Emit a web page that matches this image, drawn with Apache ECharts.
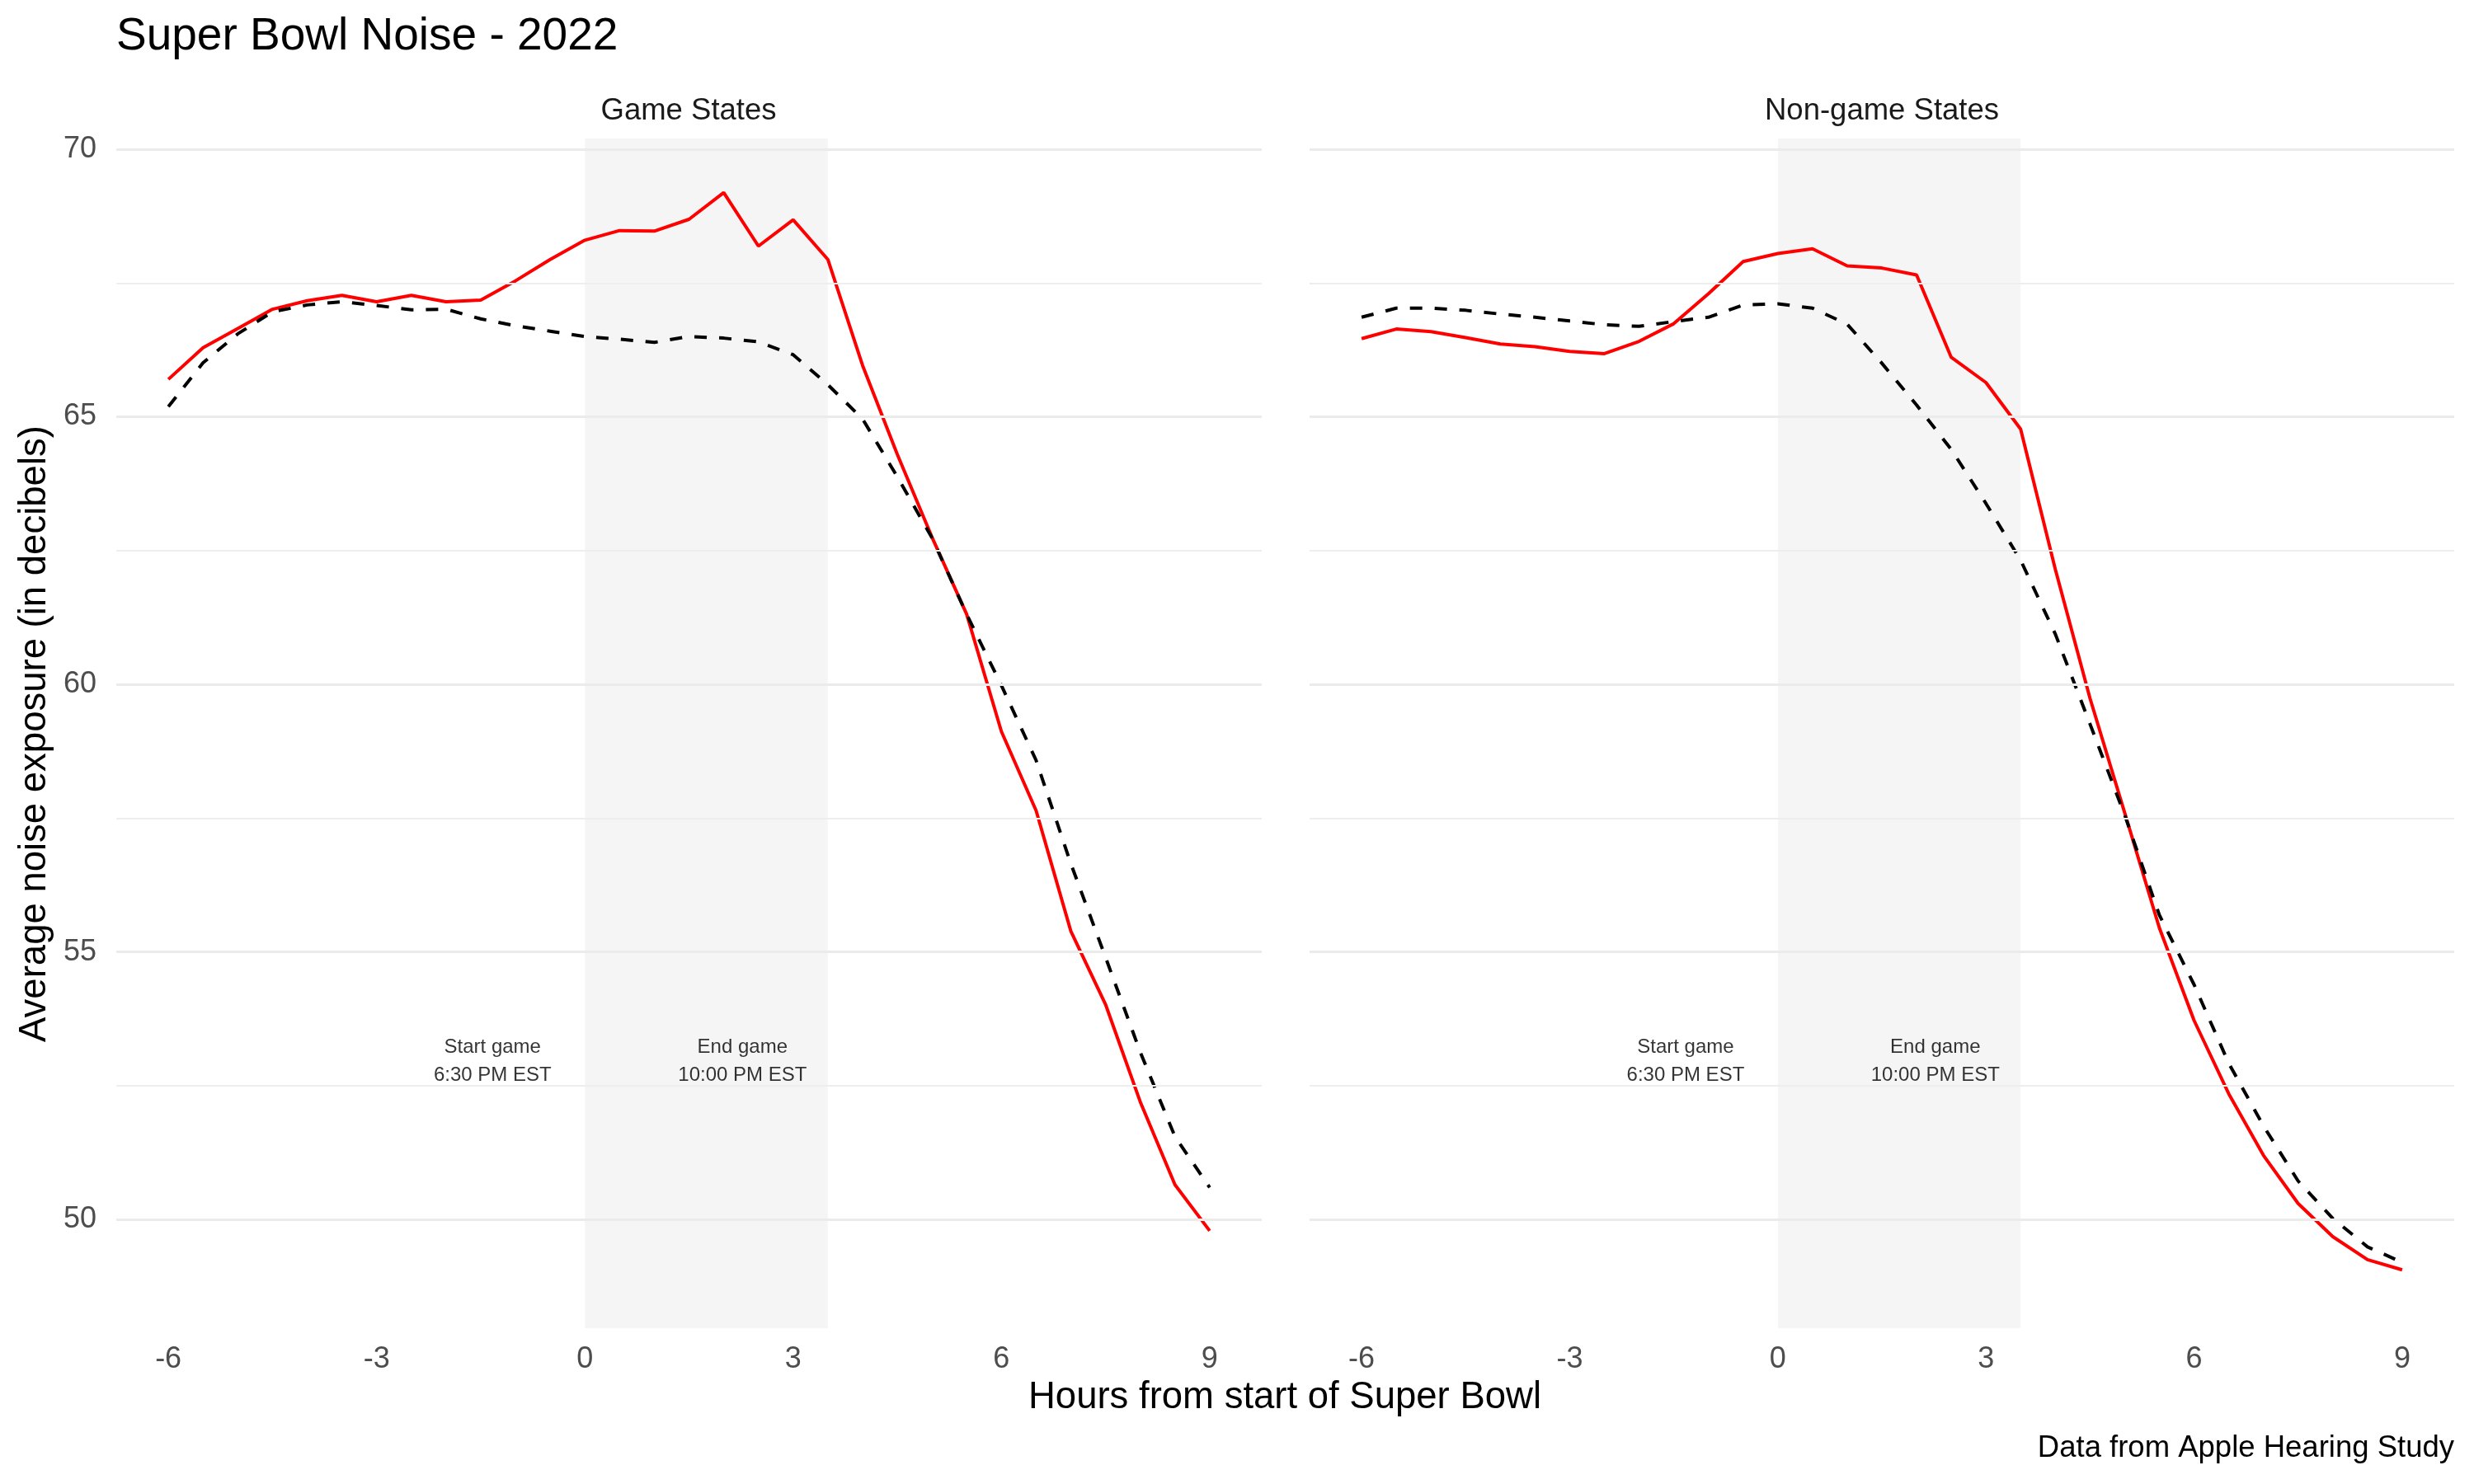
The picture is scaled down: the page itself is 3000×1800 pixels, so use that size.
<!DOCTYPE html>
<html><head><meta charset="utf-8">
<script src="https://cdn.jsdelivr.net/npm/echarts@6/dist/echarts.min.js"></script>
<style>html,body{margin:0;padding:0;background:#fff}#c{width:3000px;height:1800px}</style>
</head><body><div id="c"></div>
<script>
// ---- data ----
const hours = [-6,-5.5,-5,-4.5,-4,-3.5,-3,-2.5,-2,-1.5,-1,-0.5,0,0.5,1,1.5,2,2.5,3,3.5,4,4.5,5,5.5,6,6.5,7,7.5,8,8.5,9];
const gameRed = [65.70,66.29,66.65,67.01,67.17,67.27,67.15,67.27,67.15,67.18,67.54,67.94,68.30,68.48,68.47,68.69,69.19,68.19,68.68,67.94,65.96,64.30,62.75,61.31,59.12,57.64,55.39,54.02,52.20,50.65,49.79];
const gameBlack = [65.19,66.01,66.55,66.96,67.09,67.15,67.08,67.00,67.01,66.83,66.70,66.60,66.50,66.45,66.39,66.50,66.47,66.40,66.16,65.60,64.96,63.88,62.74,61.31,59.98,58.58,56.65,54.90,53.13,51.55,50.60];
const nonGameRed = [66.46,66.64,66.59,66.48,66.36,66.31,66.22,66.18,66.41,66.74,67.30,67.90,68.05,68.14,67.82,67.78,67.65,66.11,65.64,64.77,62.15,59.74,57.60,55.45,53.72,52.35,51.20,50.30,49.68,49.25,49.06];
const nonGameBlack = [66.86,67.03,67.03,66.99,66.92,66.86,66.79,66.72,66.69,66.78,66.86,67.09,67.11,67.03,66.73,66.00,65.22,64.39,63.38,62.32,60.94,59.26,57.56,55.69,54.39,52.92,51.75,50.72,50.02,49.49,49.20];
const panelTitles = ['Game States', 'Non-game States'];
const xTicks = [-6, -3, 0, 3, 6, 9];
const yTicks = [50, 55, 60, 65, 70];
const yMinor = [52.5, 57.5, 62.5, 67.5];
const gameWindow = [0, 3.5];
const annotX = [-1.33, 2.27];
const annotY = [52.95, 52.95];
const annotText = ['Start game\n6:30 PM EST', 'End game\n10:00 PM EST'];

// ---- chart ----
const FONT = 'Liberation Sans';
const chart = echarts.init(document.getElementById('c'), null, {renderer: 'canvas'});
const panels = [[gameRed, gameBlack], [nonGameRed, nonGameBlack]];
const grids = [
  {left: 141, width: 1389, top: 168, height: 1443},
  {left: 1588, width: 1388, top: 168, height: 1443}
];
const xAxes = [], yAxes = [], series = [];
panels.forEach((p, i) => {
  xAxes.push({
    gridIndex: i, type: 'value', min: -6.75, max: 9.75,
    axisLine: {show: false}, axisTick: {show: false}, splitLine: {show: false},
    axisLabel: {customValues: xTicks, color: '#4D4D4D', fontSize: 36, margin: 20, fontFamily: FONT}
  });
  yAxes.push({
    gridIndex: i, type: 'value', min: 47.97, max: 70.2,
    axisLine: {show: false}, axisTick: {show: false}, splitLine: {show: false},
    axisLabel: {show: i === 0, customValues: yTicks, color: '#4D4D4D', fontSize: 36, margin: 24, fontFamily: FONT}
  });
  // gridlines
  series.push({
    type: 'line', xAxisIndex: i, yAxisIndex: i, data: [], z: 1, silent: true,
    markLine: {
      silent: true, symbol: ['none', 'none'], animation: false,
      label: {show: false},
      data: yTicks.map(v => ({yAxis: v, lineStyle: {color: '#EBEBEB', width: 3.2, type: 'solid'}}))
        .concat(yMinor.map(v => ({yAxis: v, lineStyle: {color: '#EEEEEE', width: 2, type: 'solid'}})))
    }
  });
  // game window shading
  series.push({
    type: 'line', xAxisIndex: i, yAxisIndex: i, data: [], z: 2, silent: true,
    markArea: {
      silent: true, animation: false,
      itemStyle: {color: 'rgba(0,0,0,0.04)'},
      data: [[{xAxis: gameWindow[0]}, {xAxis: gameWindow[1]}]]
    }
  });
  // red line
  series.push({
    type: 'line', xAxisIndex: i, yAxisIndex: i, z: 3, showSymbol: false, animation: false,
    data: hours.map((h, k) => [h, p[0][k]]),
    lineStyle: {color: '#FF0000', width: 4}
  });
  // dashed black line
  series.push({
    type: 'line', xAxisIndex: i, yAxisIndex: i, z: 4, showSymbol: false, animation: false,
    data: hours.map((h, k) => [h, p[1][k]]),
    lineStyle: {color: '#000000', width: 4, type: [15, 15]}
  });
  // annotations
  series.push({
    type: 'scatter', xAxisIndex: i, yAxisIndex: i, z: 5, symbolSize: 0, animation: false, silent: true,
    data: annotX.map((x, k) => ({value: [x, annotY[k]], label: {formatter: annotText[k]}})),
    label: {show: true, position: 'inside', color: '#000', fontSize: 24, lineHeight: 34, fontFamily: FONT, align: 'center', verticalAlign: 'middle'}
  });
});

const graphic = [
  {type: 'text', left: 141, top: 17, style: {text: 'Super Bowl Noise - 2022', font: '55px "Liberation Sans"', fill: '#000'}},
  {type: 'text', x: 835, y: 135, style: {text: panelTitles[0], font: '36.5px "Liberation Sans"', fill: '#1A1A1A', align: 'center', verticalAlign: 'middle'}},
  {type: 'text', x: 2282, y: 135, style: {text: panelTitles[1], font: '36.5px "Liberation Sans"', fill: '#1A1A1A', align: 'center', verticalAlign: 'middle'}},
  {type: 'text', x: 1558, y: 1695, style: {text: 'Hours from start of Super Bowl', font: '45.5px "Liberation Sans"', fill: '#000', align: 'center', verticalAlign: 'middle'}},
  {type: 'text', x: 42, y: 890, rotation: Math.PI / 2, style: {text: 'Average noise exposure (in decibels)', font: '45.5px "Liberation Sans"', fill: '#000', align: 'center', verticalAlign: 'middle'}},
  {type: 'text', x: 2976, y: 1757, style: {text: 'Data from Apple Hearing Study', font: '36.5px "Liberation Sans"', fill: '#000', align: 'right', verticalAlign: 'middle'}}
];

chart.setOption({
  animation: false,
  backgroundColor: '#ffffff',
  grid: grids,
  xAxis: xAxes,
  yAxis: yAxes,
  series: series,
  graphic: graphic
});
</script>
</body></html>
